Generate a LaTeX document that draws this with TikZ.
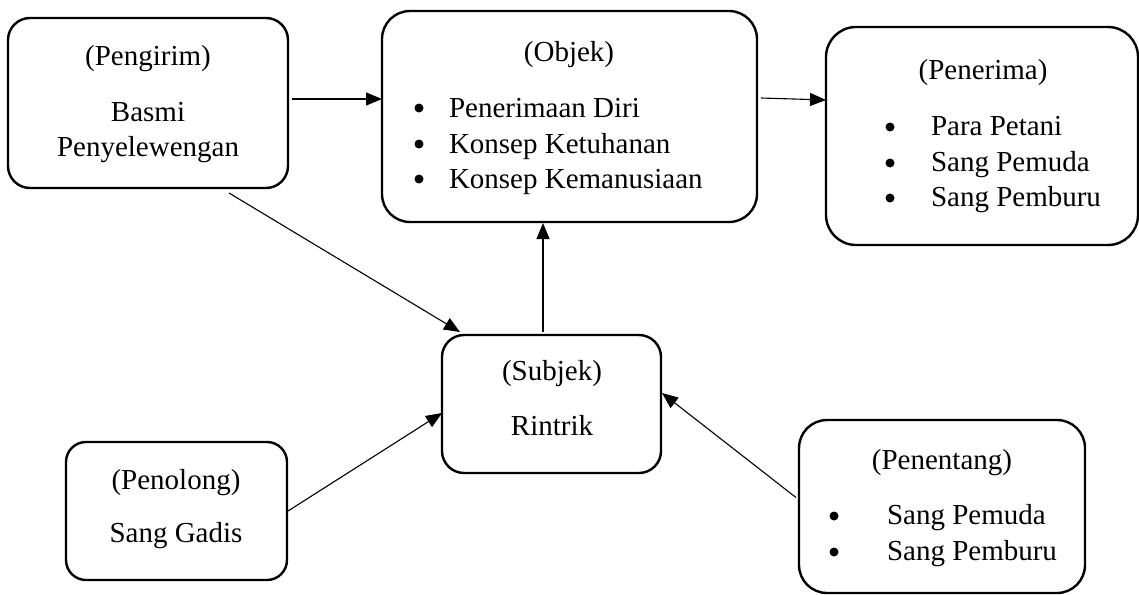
\documentclass[tikz,border=0pt]{standalone}
\usepackage{fontspec}
\setmainfont{Liberation Serif}
\usetikzlibrary{arrows.meta}
\tikzset{
  box/.style={draw, line width=2.4pt, outer sep=0pt, inner sep=0pt},
  txt/.style={inner sep=0pt, outer sep=0pt, anchor=base, font=\fontsize{29}{35}\selectfont},
  itm/.style={txt, anchor=base west},
  bul/.style={circle, fill, draw=none, minimum size=9pt, inner sep=0pt, outer sep=0pt},
  arr/.style={line width=1.1pt, -{Triangle[length=16pt,width=13pt]}}
}
\begin{document}
\begin{tikzpicture}[x=1pt,y=-1pt]
\useasboundingbox (0,0) rectangle (1139,594);
% boxes
\node[box, minimum width=280pt, minimum height=170pt, rounded corners=22pt] (pengirim) at (148,103) {};
\node[box, minimum width=375pt, minimum height=211pt, rounded corners=28pt] (objek) at (569.5,116.5) {};
\node[box, minimum width=312pt, minimum height=218pt, rounded corners=30pt] (penerima) at (982,136) {};
\node[box, minimum width=219pt, minimum height=138pt, rounded corners=22pt] (subjek) at (551.5,404) {};
\node[box, minimum width=221pt, minimum height=138pt, rounded corners=20pt] (penolong) at (176.5,511) {};
\node[box, minimum width=286pt, minimum height=173pt, rounded corners=28pt] (penentang) at (942,506.5) {};
% Pengirim
\node[txt] (pg1) at (148,66) {(Pengirim)};
\node[txt] (pg2) at (148,121) {Basmi};
\node[txt] (pg3) at (148,156) {Penyelewengan};
% Objek
\node[txt] (ob0) at (569,62) {(Objek)};
\node[bul] (obb1) at (419,108) {};
\node[bul] (obb2) at (419,144) {};
\node[bul] (obb3) at (419,179) {};
\node[itm] (ob1) at (449,117) {Penerimaan Diri};
\node[itm] (ob2) at (449,153) {Konsep Ketuhanan};
\node[itm] (ob3) at (449,188) {Konsep Kemanusiaan};
% Penerima
\node[txt] (pn0) at (983,79) {(Penerima)};
\node[bul] (pnb1) at (890,127) {};
\node[bul] (pnb2) at (890,163) {};
\node[bul] (pnb3) at (890,198) {};
\node[itm] (pn1) at (931,135) {Para Petani};
\node[itm] (pn2) at (931,171) {Sang Pemuda};
\node[itm] (pn3) at (931,206) {Sang Pemburu};
% Subjek
\node[txt] (sb0) at (552,380) {(Subjek)};
\node[txt] (sb1) at (552,435) {Rintrik};
% Penolong
\node[txt] (pl0) at (176,489) {(Penolong)};
\node[txt] (pl1) at (176,542) {Sang Gadis};
% Penentang
\node[txt] (pt0) at (942,469) {(Penentang)};
\node[bul] (ptb1) at (834,516) {};
\node[bul] (ptb2) at (834,552) {};
\node[itm] (pt1) at (887,524) {Sang Pemuda};
\node[itm] (pt2) at (887,560) {Sang Pemburu};
% connectors
\draw[arr] ([shift={(4pt,4pt)}]pengirim.east) -- ([yshift=17.5pt]objek.west);
\draw[arr] ([shift={(4pt,18.5pt)}]objek.east) -- ([yshift=36pt]penerima.west);
\draw[arr] ([shift={(81pt,-5pt)}]pengirim.south) -- ([shift={(-91.5pt,3pt)}]subjek.north);
\draw[arr] ([shift={(-8.5pt,3pt)}]subjek.north) -- ([shift={(-26.5pt,-1pt)}]objek.south);
\draw[arr] ([xshift=1pt]penolong.east) -- ([yshift=-9pt]subjek.west);
\draw[arr] ([shift={(-3pt,9pt)}]penentang.west) -- ([shift={(1pt,11pt)}]subjek.east);
\end{tikzpicture}
\end{document}
